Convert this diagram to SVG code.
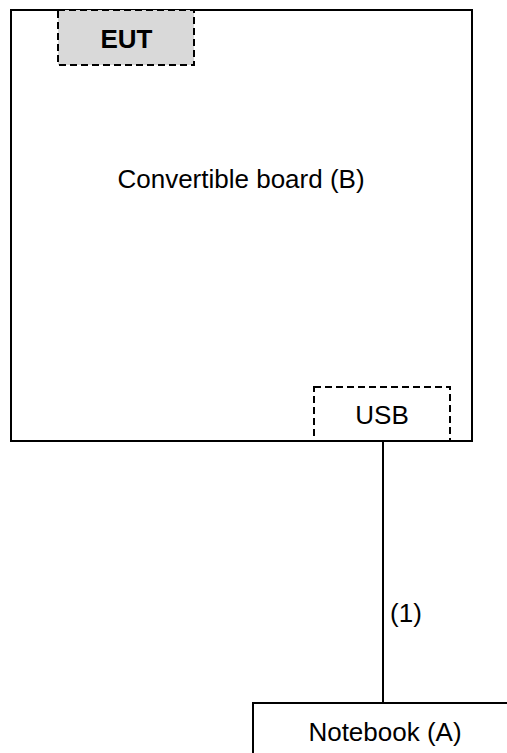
<svg xmlns="http://www.w3.org/2000/svg" width="507" height="753" viewBox="0 0 507 753">
<style>
.box{fill:#fff;stroke:#000;stroke-width:2}
.dash{stroke:#000;stroke-width:2;stroke-dasharray:7,4}
.t{font-family:"Liberation Sans",Arial,sans-serif;font-size:26px;fill:#000;text-anchor:middle}
.b{font-weight:bold}
</style>
<rect width="507" height="753" fill="#fff"/>
<g id="board">
<rect class="box" x="11" y="10" width="461" height="431"/>
<text class="t" x="241" y="188">Convertible board (B)</text>
</g>
<g id="eut">
<rect class="dash" x="58" y="10" width="136" height="55" fill="#d9d9d9"/>
<text class="t b" x="126.5" y="48">EUT</text>
</g>
<defs><clipPath id="c"><rect x="300" y="380" width="160" height="60"/></clipPath></defs>
<g id="usb">
<rect class="dash" x="314" y="387" width="136" height="70" fill="none" clip-path="url(#c)"/>
<text class="t" x="382" y="424">USB</text>
</g>
<g id="connectors">
<line x1="383" y1="441" x2="383" y2="703" stroke="#000" stroke-width="2"/>
<text class="t" x="406" y="622">(1)</text>
</g>
<g id="notebook">
<rect class="box" x="253" y="703" width="300" height="100"/>
<text class="t" x="385" y="741">Notebook (A)</text>
</g>
</svg>
